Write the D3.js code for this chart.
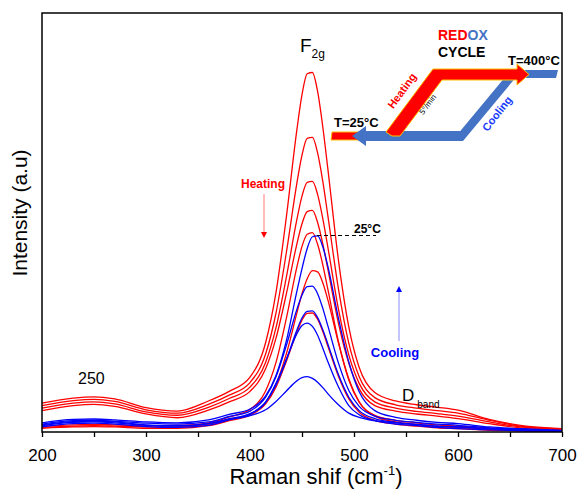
<!DOCTYPE html>
<html>
<head>
<meta charset="utf-8">
<script src="https://cdn.jsdelivr.net/npm/d3@7"></script>
<style>
  body { margin: 0; background: #fff; }
  text { font-family: Arial, "Liberation Sans", sans-serif; }
</style>
</head>
<body>
<svg id="chart" width="579" height="493"></svg>
<script>
// Raman shift grid (cm-1) shared by every spectrum
var shift = [200,230,250,270,300,330,360,380,400,415,425,435,445,450,455,460,465,470,475,485,495,505,520,540,560,580,600,630,660,700];

// heating spectra (red)
var heat1 = [6.9,8.1,8.4,7.9,5.8,5.0,7.4,9.7,13.1,21.3,33.3,51.4,72.0,80.5,85.5,85.8,81.3,72.8,62.5,41.1,25.1,15.4,9.4,7.4,6.5,5.9,5.2,3.0,1.6,0.8];
var heat2 = [6.3,7.5,7.8,7.3,5.3,4.5,6.6,8.8,11.8,18.6,28.4,42.9,59.3,66.1,70.1,70.3,66.6,59.8,51.4,34.2,21.2,13.2,8.2,6.5,5.7,5.1,4.5,2.8,1.4,0.7];
var heat3 = [5.7,6.9,7.2,6.7,4.8,4.0,5.9,8.0,10.7,16.6,24.9,37.0,50.6,56.3,59.6,59.8,56.7,50.9,43.9,29.4,18.4,11.6,7.2,5.7,4.9,4.4,3.8,2.4,1.2,0.6];
var heat4 = [5.1,6.3,6.6,6.1,4.3,3.4,5.2,7.2,9.7,15.1,22.4,33.0,44.8,49.7,52.6,52.9,50.0,44.9,38.7,26.0,16.4,10.3,6.3,5.0,4.3,3.8,3.2,2.0,1.0,0.5];
var heat5 = [1.4,1.7,1.8,1.7,1.5,1.6,2.2,3.6,5.4,9.8,16.6,27.2,39.3,44.3,47.2,47.6,44.8,39.9,33.9,21.6,12.4,7.1,4.0,2.8,2.2,1.7,1.4,0.9,0.6,0.3];
var heat6 = [1.1,1.4,1.5,1.4,1.2,1.2,1.8,3.0,4.3,7.0,11.4,18.7,28.3,33.0,36.6,38.5,38.2,35.6,31.4,21.3,12.7,7.2,3.8,2.4,1.8,1.3,1.1,0.6,0.4,0.2];
var heat7 = [0.9,1.2,1.3,1.2,0.9,0.9,1.5,2.7,4.0,6.7,10.7,16.9,23.8,26.7,28.3,28.4,26.9,24.0,20.4,13.3,7.9,4.7,2.8,1.9,1.4,1.0,0.8,0.4,0.3,0.2];

// cooling spectra (blue)
var cool1 = [2.2,3.0,3.1,2.9,2.4,2.2,2.9,4.2,5.5,8.6,13.5,21.8,33.5,39.0,43.8,46.6,46.8,44.2,39.4,27.2,16.7,9.6,5.1,3.5,2.8,2.3,2.0,1.2,0.8,0.4];
var cool2 = [1.9,2.7,2.8,2.6,2.1,1.9,2.4,3.7,5.0,8.3,13.2,20.7,29.2,32.7,34.7,34.8,33.0,29.5,25.2,16.5,9.9,6.1,3.8,2.8,2.3,1.9,1.6,1.0,0.7,0.3];
var cool3 = [1.5,2.3,2.4,2.2,1.6,1.4,2.0,3.2,4.4,7.1,11.2,17.3,24.3,27.2,28.8,28.9,27.3,24.4,20.9,13.7,8.3,5.1,3.2,2.3,1.8,1.4,1.2,0.8,0.5,0.3];
var cool4 = [1.2,2.0,2.1,1.9,1.3,1.1,1.6,2.9,4.2,7.1,11.6,17.4,23.4,25.4,26.0,25.2,23.1,20.0,16.7,10.8,6.3,4.1,2.7,1.9,1.5,1.1,0.8,0.5,0.3,0.2];
var cool5 = [1.7,2.5,2.6,2.4,1.7,1.5,2.0,3.0,3.9,5.3,7.3,9.8,12.2,13.0,13.2,12.8,11.9,10.6,9.1,6.5,4.5,3.5,2.7,2.2,1.8,1.4,1.2,0.8,0.5,0.3];

var heating = [heat1, heat2, heat3, heat4, heat5, heat6, heat7];
var cooling = [cool1, cool2, cool3, cool4, cool5];

var majorTicks = [200, 300, 400, 500, 600, 700];
var minorTicks = [250, 350, 450, 550, 650];

var margin = { top: 13, right: 17, bottom: 61, left: 42 };
var W = 579, H = 493;
var width = W - margin.left - margin.right;
var height = H - margin.top - margin.bottom;

var svg = d3.select("#chart");
var g = svg.append("g").attr("transform", "translate(" + margin.left + "," + margin.top + ")");

var x = d3.scaleLinear().domain([200, 700]).range([0, width]);
var y = d3.scaleLinear().domain([0, 100]).range([height, 0]);

var line = d3.line()
    .x(function (d, i) { return x(shift[i]); })
    .y(function (d) { return y(d); })
    .curve(d3.curveMonotoneX);

// spectra
g.selectAll(".heat").data(heating).enter().append("path")
    .attr("class", "heat")
    .attr("d", line)
    .attr("fill", "none")
    .attr("stroke", "#ff0000")
    .attr("stroke-width", 1.3);
g.selectAll(".cool").data(cooling).enter().append("path")
    .attr("class", "cool")
    .attr("d", line)
    .attr("fill", "none")
    .attr("stroke", "#0000ff")
    .attr("stroke-width", 1.3);

// frame
g.append("rect")
    .attr("width", width).attr("height", height)
    .attr("fill", "none").attr("stroke", "#000").attr("stroke-width", 1.5);

// x axis, major + minor
var xAxis = d3.axisBottom(x).tickValues(majorTicks).tickSize(5).tickPadding(12).tickFormat(d3.format("d"));
var gX = g.append("g").attr("transform", "translate(0," + height + ")").call(xAxis);
gX.select(".domain").remove();
gX.selectAll("line").attr("stroke-width", 1.3);
gX.selectAll("text").attr("font-size", 17).attr("fill", "#000")
    .style("font-family", "Arial, 'Liberation Sans', sans-serif");
var gXm = g.append("g").attr("transform", "translate(0," + height + ")")
    .call(d3.axisBottom(x).tickValues(minorTicks).tickSize(5).tickFormat(""));
gXm.select(".domain").remove();
gXm.selectAll("line").attr("stroke-width", 1.3);

// axis titles
var xt = svg.append("text").attr("x", 316).attr("y", 484).attr("text-anchor", "middle")
    .attr("font-size", 22);
xt.append("tspan").text("Raman shif (cm");
xt.append("tspan").attr("font-size", 13).attr("dy", -9).text("-1");
xt.append("tspan").attr("dy", 9).text(")");

svg.append("text").attr("transform", "translate(27,213) rotate(-90)")
    .attr("text-anchor", "middle").attr("font-size", 21).text("Intensity (a.u)");

// peak labels
var f2g = svg.append("text").attr("x", 300).attr("y", 52).attr("font-size", 19);
f2g.append("tspan").text("F");
f2g.append("tspan").attr("font-size", 12).attr("dy", 6).text("2g");

svg.append("text").attr("x", 78).attr("y", 384).attr("font-size", 16).text("250");

var db = svg.append("text").attr("x", 402).attr("y", 401).attr("font-size", 17);
db.append("tspan").text("D");
db.append("tspan").attr("font-size", 10).attr("dx", 3).attr("dy", 7).text("band");

// heating / cooling markers
svg.append("text").attr("x", 263).attr("y", 188).attr("text-anchor", "middle")
    .attr("font-size", 12).attr("font-weight", "bold").attr("fill", "#ff0000").text("Heating");
svg.append("line").attr("x1", 264).attr("y1", 194).attr("x2", 264).attr("y2", 232)
    .attr("stroke", "#ff9090").attr("stroke-width", 1.2);
svg.append("path").attr("d", "M261,232 L267,232 L264,238 Z").attr("fill", "#ff0000");

svg.append("text").attr("x", 395).attr("y", 357).attr("text-anchor", "middle")
    .attr("font-size", 13).attr("font-weight", "bold").attr("fill", "#0000ff").text("Cooling");
svg.append("line").attr("x1", 399).attr("y1", 341).attr("x2", 399).attr("y2", 292)
    .attr("stroke", "#b0b0ff").attr("stroke-width", 1.5);
svg.append("path").attr("d", "M396,292 L402,292 L399,286 Z").attr("fill", "#0000ff");

svg.append("line").attr("x1", 317).attr("y1", 235.5).attr("x2", 376).attr("y2", 235.5)
    .attr("stroke", "#000").attr("stroke-width", 1).attr("stroke-dasharray", "4,3");
svg.append("text").attr("x", 354).attr("y", 233).attr("font-size", 12)
    .attr("font-weight", "bold").text("25°C");

// redox cycle inset
var inset = svg.append("g");
var blue = "#4472c4", yel = "#ffc000";
// blue top bar and diagonal
inset.append("path").attr("d", "M505,70 L558,70 L556,78 L505,78 Z").attr("fill", blue);
inset.append("path").attr("d", "M452,141 L463,141 L517,76 L506,76 Z").attr("fill", blue);
// red bottom-left stub
inset.append("path").attr("d", "M332,132 L392,132 L392,140 L331,140 Z")
    .attr("fill", "#ff0000").attr("stroke", yel).attr("stroke-width", 1);
// blue bottom arrow (pointing left)
inset.append("path").attr("d", "M463,131 L366,131 L366,126 L352,136 L366,146 L366,141 L463,141 Z")
    .attr("fill", blue);
// red diagonal + top arrow (pointing right)
inset.append("path")
    .attr("d", "M386,132 L433,69 L517,69 L517,64 L529,74.5 L517,85 L517,80 L442,80 L400,136 L392,136 Z")
    .attr("fill", "#ff0000").attr("stroke", yel).attr("stroke-width", 1);

var redox = inset.append("text").attr("x", 438).attr("y", 40).attr("font-size", 14).attr("font-weight", "bold");
redox.append("tspan").attr("fill", "#ff0000").text("RED");
redox.append("tspan").attr("fill", blue).text("OX");
inset.append("text").attr("x", 438).attr("y", 57).attr("font-size", 14).attr("font-weight", "bold").text("CYCLE");
inset.append("text").attr("x", 508).attr("y", 65).attr("font-size", 13).attr("font-weight", "bold").text("T=400°C");
inset.append("text").attr("x", 334).attr("y", 127).attr("font-size", 13).attr("font-weight", "bold").text("T=25°C");
inset.append("text").attr("transform", "translate(405,93) rotate(-54)").attr("text-anchor", "middle")
    .attr("font-size", 11).attr("font-weight", "bold").attr("fill", "#ff0000").text("Heating");
inset.append("text").attr("transform", "translate(430,106) rotate(-54)").attr("text-anchor", "middle")
    .attr("font-size", 8).attr("fill", "#000").text("5°/min");
inset.append("text").attr("transform", "translate(500,116) rotate(-52)").attr("text-anchor", "middle")
    .attr("font-size", 11).attr("font-weight", "bold").attr("fill", "#1a3cff").text("Cooling");
</script>
</body>
</html>
